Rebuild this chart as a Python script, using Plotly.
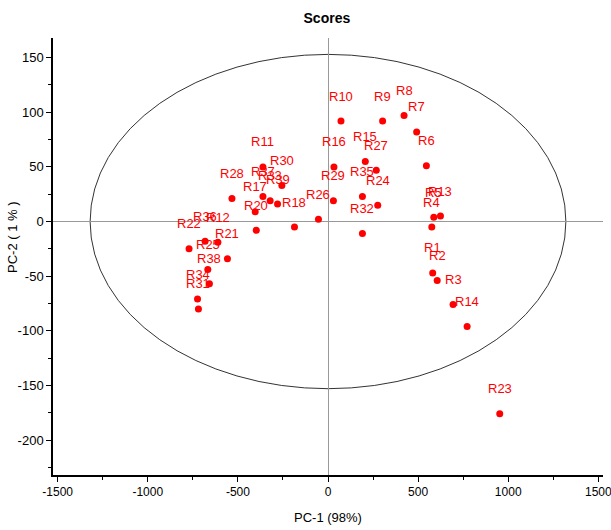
import plotly.graph_objects as go

labels = ["R1", "R2", "R3", "R4", "R5", "R6", "R7", "R8", "R9", "R10",
          "R11", "R12", "R13", "R14", "R15", "R16", "R17", "R18", "R20", "R21",
          "R22", "R23", "R24", "R25", "R26", "R27", "R28", "R29", "R30", "R31",
          "R32", "R33", "R34", "R35", "R36", "R37", "R38", "R39"]
pc1 = [581, 606, 694, 576, 587, 546, 492, 422, 303, 72,
       -361, -611, 624, 772, 207, 33, -404, -186, -398, -558,
       -771, 953, 276, -667, -53, 268, -533, 30, -256, -719,
       191, -321, -724, 191, -682, -361, -658, -280]
pc2 = [-47, -54, -76, -5, 4, 51, 82, 97, 92, 92,
       50, -19, 5, -96, 55, 50, 9, -5, -8, -34,
       -25, -176, 15, -44, 2, 47, 21, 19, 33, -80,
       -11, 19, -71, 23, -18, 23, -57, 16]

ellipse_a = 1320
ellipse_b = 153

x_ticks = [-1500, -1000, -500, 0, 500, 1000, 1500]
y_ticks = [150, 100, 50, 0, -50, -100, -150, -200]

FONT = "Liberation Sans Narrow, Arial Narrow, Liberation Sans, Arial, sans-serif"

fig = go.Figure()
fig.add_trace(go.Scatter(
    x=pc1, y=pc2, mode="markers",
    marker=dict(color="#ff0000", size=7),
    hoverinfo="text", text=labels, showlegend=False,
))

for lab, xv, yv in zip(labels, pc1, pc2):
    fig.add_annotation(x=xv, y=yv, text=lab, showarrow=False, yshift=25,
                       font=dict(family=FONT, size=13, color="#ff0000"))

fig.add_shape(type="circle", xref="x", yref="y",
              x0=-ellipse_a, x1=ellipse_a, y0=-ellipse_b, y1=ellipse_b,
              line=dict(color="#333333", width=1), layer="below")

# y-axis title (spaced as in the reference)
fig.add_annotation(xref="paper", yref="paper", x=-41 / 550, y=(475 - 237) / 437,
                   text="PC-2 ( 1 % )", textangle=-90, showarrow=False,
                   xanchor="center", yanchor="middle",
                   font=dict(family="Liberation Sans, Arial, sans-serif", size=13, color="black"))

fig.update_layout(
    width=611, height=530,
    margin=dict(l=53, r=8, t=38, b=55),
    paper_bgcolor="white", plot_bgcolor="white",
    title=dict(text="<b>Scores</b>", x=0.535, xanchor="center", y=0.966, yanchor="middle",
               font=dict(family=FONT, size=14, color="black")),
    font=dict(family=FONT, size=13, color="black"),
)
fig.update_xaxes(
    range=[-1526, 1526], tickvals=x_ticks, ticktext=[str(v) for v in x_ticks],
    showgrid=False, zeroline=True, zerolinecolor="#999999", zerolinewidth=1,
    showline=True, linecolor="black", linewidth=1.5, ticks="outside", ticklen=5,
    tickcolor="black", minor=dict(dtick=250, ticks="outside", ticklen=3, tickcolor="black"),
    title=dict(text="PC-1 (98%)", standoff=15, font=dict(family=FONT, size=13)),
    tickfont=dict(family=FONT, size=12), ticklabeloverflow="allow", automargin=False,
)
fig.update_yaxes(
    range=[-232, 168], tickvals=y_ticks, ticktext=[str(v) for v in y_ticks],
    showgrid=False, zeroline=True, zerolinecolor="#999999", zerolinewidth=1,
    showline=True, linecolor="black", linewidth=1.5, ticks="outside", ticklen=5,
    tickcolor="black", minor=dict(dtick=25, ticks="outside", ticklen=3, tickcolor="black"),
    tickfont=dict(family=FONT, size=13), automargin=False,
)

fig.write_html("out.html")
